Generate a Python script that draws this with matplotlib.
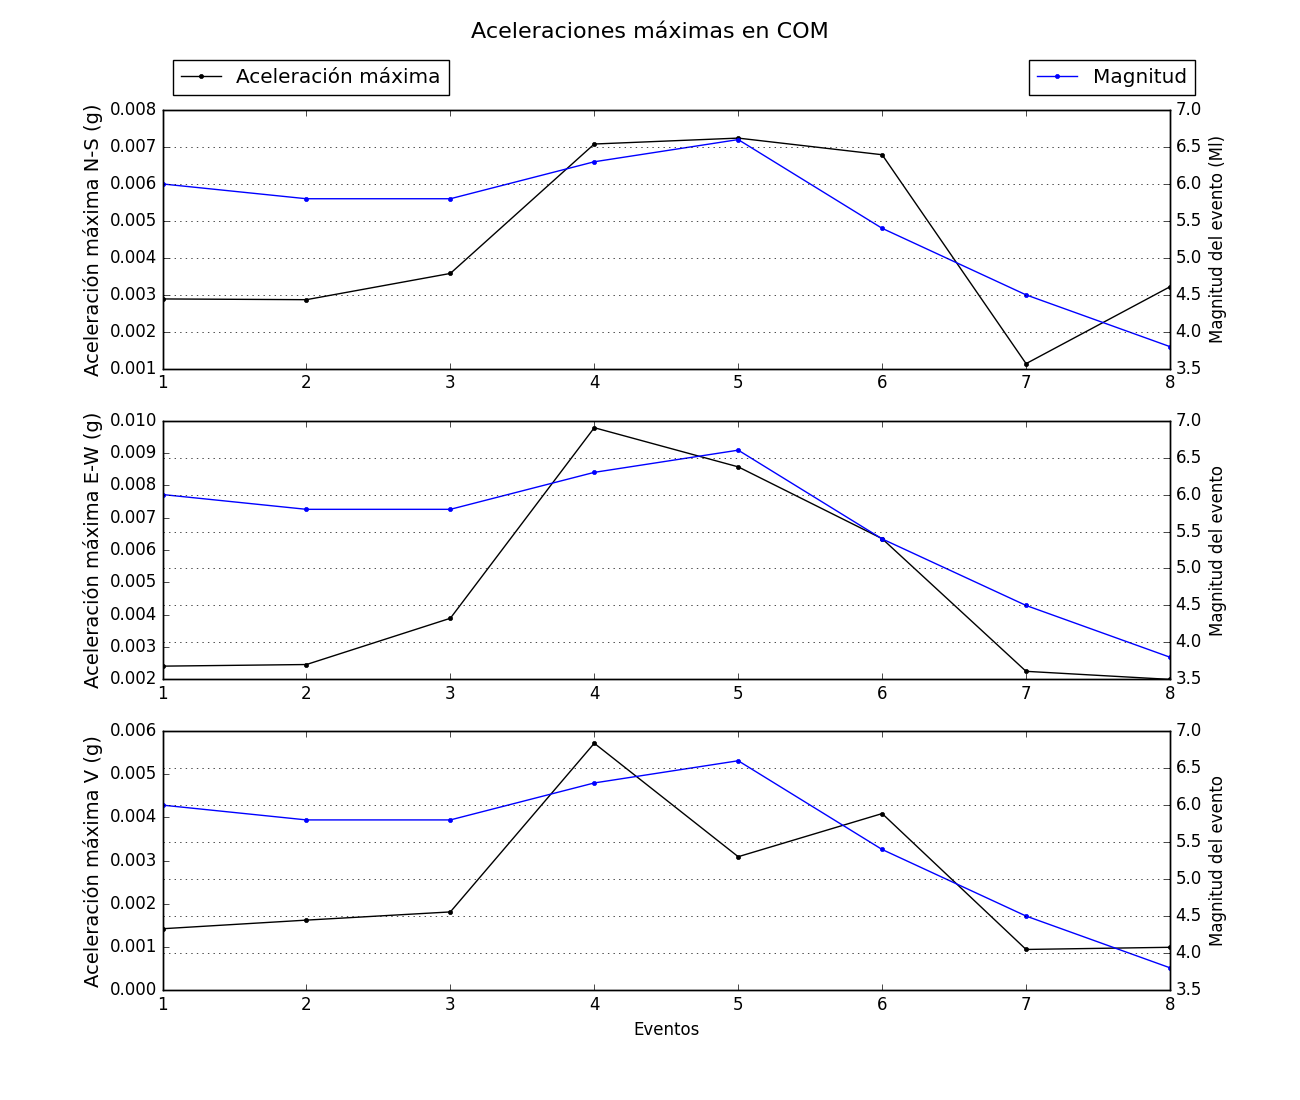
import matplotlib
matplotlib.use("Agg")
import matplotlib.pyplot as plt
import matplotlib.style as mstyle

mstyle.use("classic")

eventos = [1, 2, 3, 4, 5, 6, 7, 8]
magnitud = [6.0, 5.8, 5.8, 6.3, 6.6, 5.4, 4.5, 3.8]
acel_ns = [0.00289, 0.00287, 0.00358, 0.00708, 0.00724, 0.00679, 0.00114, 0.00322]
acel_ew = [0.00241, 0.00246, 0.00389, 0.00978, 0.00857, 0.00635, 0.00225, 0.00200]
acel_v = [0.00142, 0.00162, 0.00181, 0.00572, 0.00309, 0.00409, 0.00094, 0.00099]

left_labels = ["Aceleración máxima N-S (g)", "Aceleración máxima E-W (g)", "Aceleración máxima V (g)"]
right_labels = ["Magnitud del evento (Ml)", "Magnitud del evento", "Magnitud del evento"]
series = [acel_ns, acel_ew, acel_v]
ylims = [(0.001, 0.008), (0.002, 0.010), (0.0, 0.006)]

fig = plt.figure(figsize=(13, 11), dpi=100, facecolor="white")
fig.suptitle("Aceleraciones máximas en COM", fontsize=16, y=0.98)

for i in range(3):
    ax = fig.add_subplot(3, 1, i + 1)
    ax.plot(eventos, series[i], color="black", marker=".", linewidth=1.0,
            label="Aceleración máxima")
    ax.set_ylim(*ylims[i])
    ax.set_xlim(1, 8)
    ax.set_ylabel(left_labels[i], fontsize=14)
    ax2 = ax.twinx()
    ax2.plot(eventos, magnitud, color="blue", marker=".", linewidth=1.0,
             label="Magnitud")
    ax2.set_ylim(3.5, 7.0)
    ax2.set_xlim(1, 8)
    ax2.set_ylabel(right_labels[i], fontsize=12)
    ax2.grid(True, axis="y")
    if i == 0:
        ax.legend(loc="lower left", bbox_to_anchor=(0.0, 1.02), numpoints=1,
                  fontsize=14.4)
        ax2.legend(loc="lower right", bbox_to_anchor=(1.035, 1.02), numpoints=1,
                   fontsize=14.4)
    if i == 2:
        ax.set_xlabel("Eventos", fontsize=12)

fig.savefig("out.png", dpi=100, facecolor="white")
